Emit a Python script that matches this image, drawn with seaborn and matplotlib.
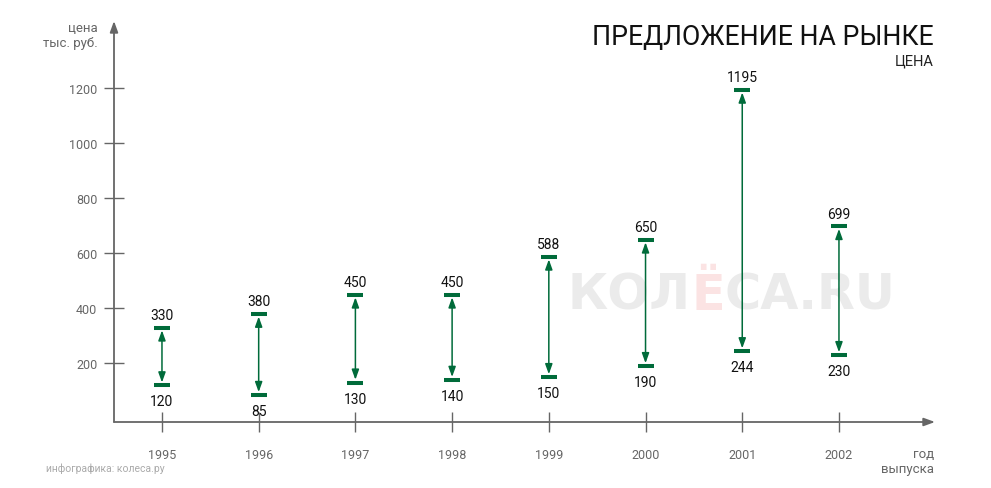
import matplotlib
matplotlib.use("Agg")
import matplotlib.pyplot as plt
import seaborn as sns
import pandas as pd

# ---- data ----
years = [1995, 1996, 1997, 1998, 1999, 2000, 2001, 2002]
price_min = [120, 85, 130, 140, 150, 190, 244, 230]
price_max = [330, 380, 450, 450, 588, 650, 1195, 699]
y_ticks = [200, 400, 600, 800, 1000, 1200]
year_labels = [str(y) for y in years]

title = "ПРЕДЛОЖЕНИЕ НА РЫНКЕ"
subtitle = "ЦЕНА"
footer = "инфографика: колеса.ру"

sns.set_theme(style="white")
plt.rcParams['font.family'] = ['Roboto', 'DejaVu Sans']

GREEN = '#006b3a'
GRAY = '#666666'
W, H = 991, 489

df = pd.DataFrame({'year': years, 'min': price_min, 'max': price_max})

fig = plt.figure(figsize=(W / 100, H / 100), dpi=100)
fig.patch.set_facecolor('white')
ax = fig.add_axes([114 / W, 1 - 423 / H, 821 / W, 401 / H])
ax.set_xlim(1994.504, 2002.993)
ax.set_ylim(-13.5, 1444.7)
for s in ax.spines.values():
    s.set_visible(False)

# axes with arrows
arrow_kw = dict(arrowstyle='-|>,head_length=0.55,head_width=0.2', color=GRAY,
                lw=1.3, shrinkA=0, shrinkB=0, mutation_scale=12)
ax.annotate('', xy=(0, 1), xytext=(0, 0), xycoords='axes fraction',
            arrowprops=arrow_kw, annotation_clip=False)
ax.annotate('', xy=(1, 0), xytext=(0, 0), xycoords='axes fraction',
            arrowprops=arrow_kw, annotation_clip=False)

ax.set_xticks(years)
ax.set_xticklabels(year_labels)
ax.set_yticks(y_ticks)
ax.set_yticklabels([str(v) for v in y_ticks])
ax.tick_params(axis='both', direction='inout', length=14, width=1, color=GRAY,
               labelcolor=GRAY, labelsize=9, bottom=True, left=True,
               top=False, right=False)
ax.tick_params(axis='x', pad=12)
ax.tick_params(axis='y', pad=5)

# watermark
wm_kw = dict(fontsize=35.5, fontweight='bold', family='DejaVu Sans', zorder=0.5)
t1 = ax.text(568 / W, 1 - 320 / H, "КОЛ", transform=fig.transFigure,
             color='#ebebeb', va='bottom', ha='left', **wm_kw)
t2 = ax.annotate("Ё", xy=(1, 0), xycoords=t1, va='bottom', ha='left',
                 color='#fbe3e3', **wm_kw)
t3 = ax.annotate("СА.RU", xy=(1, 0), xycoords=t2, va='bottom', ha='left',
                 color='#ebebeb', **wm_kw)

# range arrows and value labels
for x, lo, hi in zip(df['year'], df['min'], df['max']):
    ax.annotate('', xy=(x, hi), xytext=(x, lo), xycoords='data',
                arrowprops=dict(arrowstyle='<|-|>,head_length=0.5,head_width=0.18',
                                color=GREEN, lw=1.1, shrinkA=2, shrinkB=2,
                                mutation_scale=12),
                zorder=2)
    ax.annotate(str(hi), xy=(x, hi), xytext=(0, 6), textcoords='offset points',
                ha='center', va='baseline', fontsize=10, color='#111111')
    ax.annotate(str(lo), xy=(x, lo), xytext=(0, -14.4), textcoords='offset points',
                ha='center', va='baseline', fontsize=10, color='#111111')

# caps
for col in ['max', 'min']:
    sns.scatterplot(data=df, x='year', y=col, marker='_', s=117, linewidth=2.9,
                    color=GREEN, edgecolor=GREEN, ax=ax, zorder=3, legend=False)
ax.set_xlabel('')
ax.set_ylabel('')

# texts
fig.text(934 / W, 1 - 45.5 / H, title, ha='right', va='baseline', fontsize=19.2,
         fontweight='normal', color='#111111')
fig.text(934 / W, 1 - 65.5 / H, subtitle, ha='right', va='baseline', fontsize=10.5,
         color='#222222')
fig.text(98 / W, 1 - 32 / H, "цена", ha='right', va='baseline', fontsize=9.5, color=GRAY)
fig.text(98 / W, 1 - 47 / H, "тыс. руб.", ha='right', va='baseline', fontsize=9.5, color=GRAY)
fig.text(934 / W, 1 - 458 / H, "год", ha='right', va='baseline', fontsize=9.5, color=GRAY)
fig.text(934 / W, 1 - 473 / H, "выпуска", ha='right', va='baseline', fontsize=9.5, color=GRAY)
fig.text(46 / W, 1 - 472 / H, footer, ha='left', va='baseline', fontsize=7.5, color='#aaaaaa')

fig.savefig('out.png', dpi=100, facecolor='white')
